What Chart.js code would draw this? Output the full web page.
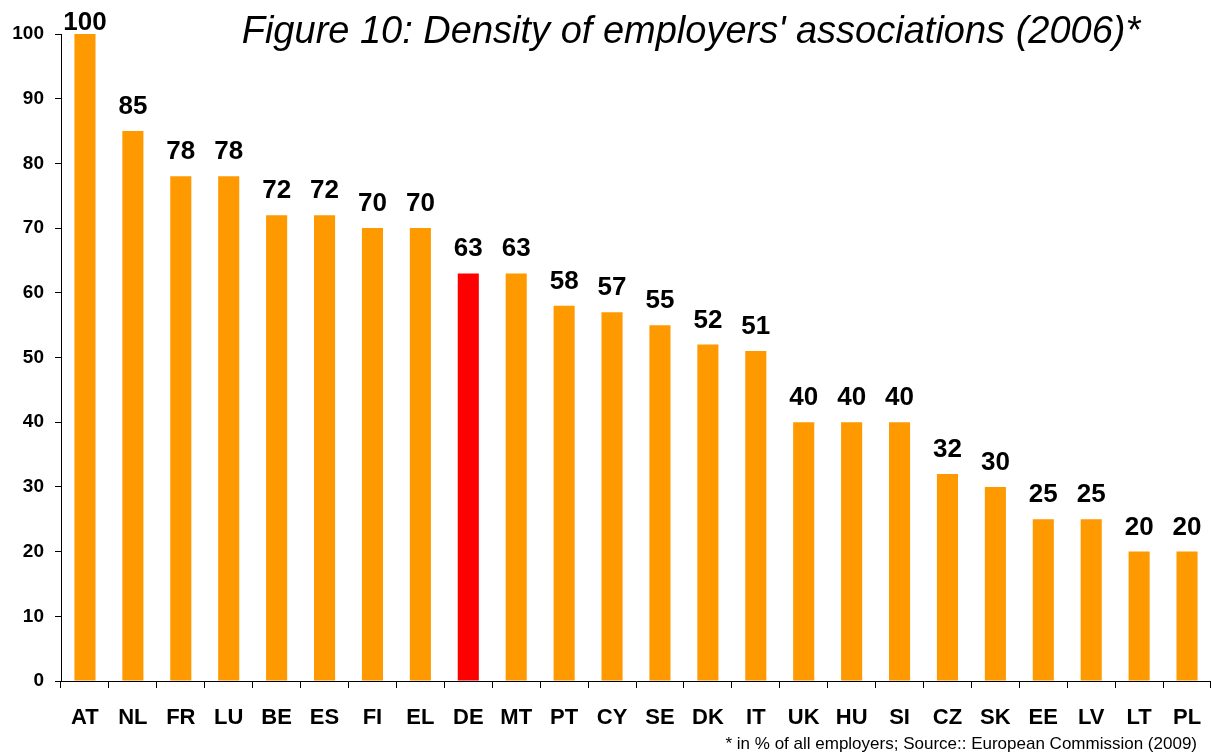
<!DOCTYPE html>
<html>
<head>
<meta charset="utf-8">
<script src="https://cdn.jsdelivr.net/npm/chart.js@4.4.0/dist/chart.umd.min.js"></script>
<style>
  html, body { margin: 0; padding: 0; background: #ffffff; }
  #wrap { width: 1211px; height: 753px; position: relative; }
</style>
</head>
<body>
<div id="wrap"><canvas id="densityChart" width="1211" height="753"></canvas></div>
<script>
// === Chart data ===
const countries = ["AT", "NL", "FR", "LU", "BE", "ES", "FI", "EL", "DE", "MT", "PT", "CY",
  "SE", "DK", "IT", "UK", "HU", "SI", "CZ", "SK", "EE", "LV", "LT", "PL"];
const density = [100, 85, 78, 78, 72, 72, 70, 70, 63, 63, 58, 57,
  55, 52, 51, 40, 40, 40, 32, 30, 25, 25, 20, 20];
const highlight = "DE";
const yTicks = [0, 10, 20, 30, 40, 50, 60, 70, 80, 90, 100];

const titleText = "Figure 10: Density of employers' associations (2006)*";
const footText = "* in % of all employers; Source:: European Commission (2009)";

const barColors = countries.map((c) => (c === highlight ? "#FF0000" : "#FF9900"));

// === Plugin: value labels above each bar ===
const valueLabels = {
  id: "valueLabels",
  afterDatasetsDraw(chart) {
    const ctx = chart.ctx;
    const meta = chart.getDatasetMeta(0);
    ctx.save();
    ctx.fillStyle = "#000000";
    ctx.font = "bold 26px 'Liberation Sans', Arial, sans-serif";
    ctx.textAlign = "center";
    ctx.textBaseline = "alphabetic";
    meta.data.forEach((bar, i) => {
      const y = Math.max(bar.y - 17, 30);
      ctx.fillText(String(density[i]), bar.x, y);
    });
    ctx.restore();
  },
};

// === Plugin: title and footnote text ===
const extraText = {
  id: "extraText",
  afterDraw(chart) {
    const ctx = chart.ctx;
    ctx.save();
    ctx.fillStyle = "#000000";
    ctx.textBaseline = "alphabetic";
    ctx.font = "italic 38px 'Liberation Sans', Arial, sans-serif";
    ctx.textAlign = "center";
    ctx.fillText(titleText, 691, 43);
    ctx.font = "17px 'Liberation Sans', Arial, sans-serif";
    ctx.textAlign = "right";
    ctx.fillText(footText, 1197, 749);
    ctx.restore();
  },
};

new Chart(document.getElementById("densityChart"), {
  type: "bar",
  data: {
    labels: countries,
    datasets: [
      {
        data: density,
        backgroundColor: barColors,
        borderWidth: 0,
        barPercentage: 0.44,
        categoryPercentage: 1.0,
      },
    ],
  },
  options: {
    responsive: false,
    animation: false,
    layout: { padding: { top: 34, left: 0, right: 0, bottom: 0 } },
    plugins: {
      legend: { display: false },
      tooltip: { enabled: false },
    },
    scales: {
      x: {
        offset: true,
        grid: {
          offset: true,
          drawOnChartArea: false,
          drawTicks: true,
          tickLength: 7,
          color: "#000000",
        },
        border: { display: true, color: "#000000", width: 1 },
        ticks: {
          color: "#000000",
          font: { family: "'Liberation Sans', Arial, sans-serif", size: 22, weight: "bold" },
          padding: 17,
          maxRotation: 0,
          autoSkip: false,
        },
        afterFit(scale) {
          scale.height = 72;
          scale.paddingLeft = 0;
          scale.paddingRight = 0;
        },
      },
      y: {
        min: 0,
        max: 100,
        afterBuildTicks(scale) {
          scale.ticks = yTicks.map((v) => ({ value: v }));
        },
        grid: {
          drawOnChartArea: false,
          drawTicks: true,
          tickLength: 6,
          color: "#000000",
        },
        border: { display: true, color: "#000000", width: 1 },
        ticks: {
          color: "#000000",
          font: { family: "'Liberation Sans', Arial, sans-serif", size: 19, weight: "bold" },
          padding: 11,
        },
        afterFit(scale) {
          scale.width = 61;
        },
      },
    },
  },
  plugins: [valueLabels, extraText],
});
</script>
</body>
</html>
